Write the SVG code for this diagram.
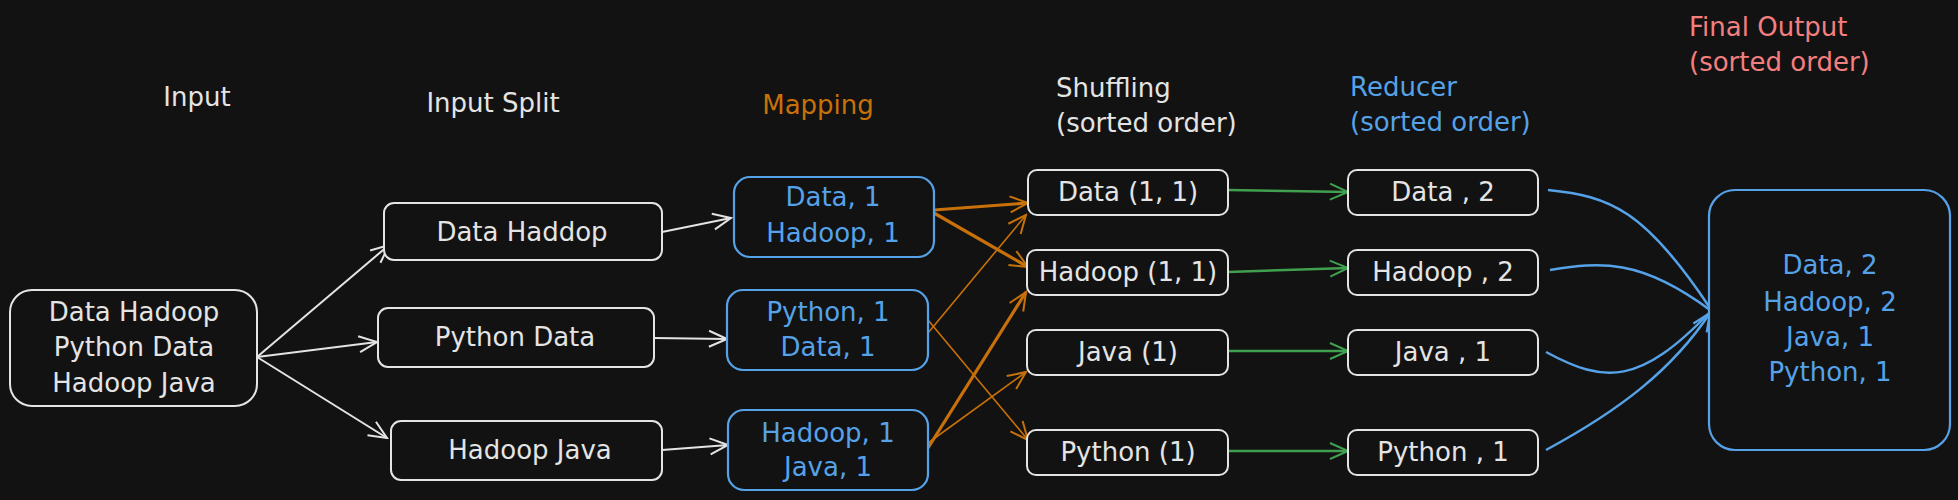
<svg xmlns="http://www.w3.org/2000/svg" width="1958" height="500" viewBox="0 0 1958 500">
<defs>
<style>
text{font-family:"DejaVu Sans","Liberation Sans",sans-serif;font-size:26px;dominant-baseline:central}
.c{text-anchor:middle}
.w{fill:#e4e4e4}
.b{fill:#56a2e8}
.o{fill:#c8700a}
.r{fill:#f47f7f}
.box{fill:#121212;stroke:#e4e4e4;stroke-width:2}
.bbox{fill:#121212;stroke:#56a2e8;stroke-width:2.2}
.aw{fill:none;stroke:#e4e4e4;stroke-width:2;marker-end:url(#mw)}
.ao{fill:none;stroke:#c8700a;stroke-width:1.6;marker-end:url(#mo)}
.ao2{fill:none;stroke:#c8700a;stroke-width:3.2;marker-end:url(#mo)}
.ag{fill:none;stroke:#40a04f;stroke-width:2.5;marker-end:url(#mg)}
.ab{fill:none;stroke:#56a2e8;stroke-width:2.5}
</style>
<marker id="mw" viewBox="-20 -10 22 20" refX="0" refY="0" markerWidth="22" markerHeight="20" markerUnits="userSpaceOnUse" orient="auto"><path d="M-18,-8 L0,0 L-18,8" fill="none" stroke="#e4e4e4" stroke-width="2"/></marker>
<marker id="mo" viewBox="-20 -10 22 20" refX="0" refY="0" markerWidth="22" markerHeight="20" markerUnits="userSpaceOnUse" orient="auto"><path d="M-18,-8 L0,0 L-18,8" fill="none" stroke="#c8700a" stroke-width="2"/></marker>
<marker id="mg" viewBox="-20 -10 22 20" refX="0" refY="0" markerWidth="22" markerHeight="20" markerUnits="userSpaceOnUse" orient="auto"><path d="M-18,-8 L0,0 L-18,8" fill="none" stroke="#40a04f" stroke-width="2"/></marker>
<marker id="mb" viewBox="-20 -10 22 20" refX="0" refY="0" markerWidth="22" markerHeight="20" markerUnits="userSpaceOnUse" orient="auto"><path d="M-18,-8 L0,0 L-18,8" fill="none" stroke="#56a2e8" stroke-width="2.2"/></marker>
</defs>
<rect width="1958" height="500" fill="#121212"/>

<g id="titles">
<text class="w c" x="197" y="97">Input</text>
<text class="w c" x="493" y="103">Input Split</text>
<text class="o c" x="818" y="105">Mapping</text>
<text class="w" x="1056" y="88">Shuffling</text>
<text class="w" x="1056" y="123">(sorted order)</text>
<text class="b" x="1350" y="87">Reducer</text>
<text class="b" x="1350" y="122">(sorted order)</text>
<text class="r" x="1689" y="27">Final Output</text>
<text class="r" x="1689" y="62">(sorted order)</text>
</g>

<g id="connectors">
<path class="aw" d="M257,357 L389,245"/>
<path class="aw" d="M257,357 L377,342"/>
<path class="aw" d="M257,357 L387,438"/>
<path class="aw" d="M662,232 L731,218"/>
<path class="aw" d="M654,338 L727,339"/>
<path class="aw" d="M662,450 L728,445"/>
<path class="ao2" d="M934,210 L1028,203"/>
<path class="ao2" d="M934,213 L1028,267"/>
<path class="ao" d="M928,333 L1026,215"/>
<path class="ao" d="M928,320 L1028,440"/>
<path class="ao2" d="M928,448 L1026,292"/>
<path class="ao" d="M928,443 L1026,372"/>
<path class="ag" d="M1228,190 L1348,192"/>
<path class="ag" d="M1228,272 L1348,268"/>
<path class="ag" d="M1228,351 L1348,351"/>
<path class="ag" d="M1228,451 L1348,451"/>
<path class="ab" d="M1548,190 C1610,196 1645,210 1710,308"/>
<path class="ab" d="M1550,270 C1600,262 1640,258 1710,310"/>
<path class="ab" d="M1546,352 C1605,384 1640,385 1710,312"/>
<path class="ab" d="M1546,450 C1620,410 1672,370 1710,313" marker-end="url(#mb)"/>
</g>

<g id="input"><rect class="box" x="10" y="290" width="247" height="116" rx="22"/>
<text class="w c" x="134" y="312">Data Hadoop</text><text class="w c" x="134" y="347">Python Data</text><text class="w c" x="134" y="383">Hadoop Java</text></g>

<g id="split1"><rect class="box" x="384" y="203" width="278" height="57" rx="10"/><text class="w c" x="522" y="232">Data Haddop</text></g>
<g id="split2"><rect class="box" x="378" y="308" width="276" height="59" rx="10"/><text class="w c" x="515" y="337">Python Data</text></g>
<g id="split3"><rect class="box" x="391" y="421" width="271" height="59" rx="10"/><text class="w c" x="530" y="450">Hadoop Java</text></g>

<g id="map1"><rect class="bbox" x="734" y="177" width="200" height="80" rx="16"/><text class="b c" x="833" y="197">Data, 1</text><text class="b c" x="833" y="233">Hadoop, 1</text></g>
<g id="map2"><rect class="bbox" x="727" y="290" width="201" height="80" rx="16"/><text class="b c" x="828" y="312">Python, 1</text><text class="b c" x="828" y="347">Data, 1</text></g>
<g id="map3"><rect class="bbox" x="728" y="410" width="200" height="80" rx="16"/><text class="b c" x="828" y="433">Hadoop, 1</text><text class="b c" x="828" y="467">Java, 1</text></g>

<g id="shuf1"><rect class="box" x="1028" y="170" width="200" height="45" rx="9"/><text class="w c" x="1128" y="192">Data (1, 1)</text></g>
<g id="shuf2"><rect class="box" x="1027" y="250" width="201" height="45" rx="9"/><text class="w c" x="1128" y="272">Hadoop (1, 1)</text></g>
<g id="shuf3"><rect class="box" x="1027" y="330" width="201" height="45" rx="9"/><text class="w c" x="1128" y="352">Java (1)</text></g>
<g id="shuf4"><rect class="box" x="1027" y="430" width="201" height="45" rx="9"/><text class="w c" x="1128" y="452">Python (1)</text></g>

<g id="red1"><rect class="box" x="1348" y="170" width="190" height="45" rx="9"/><text class="w c" x="1443" y="192">Data , 2</text></g>
<g id="red2"><rect class="box" x="1348" y="250" width="190" height="45" rx="9"/><text class="w c" x="1443" y="272">Hadoop , 2</text></g>
<g id="red3"><rect class="box" x="1348" y="330" width="190" height="45" rx="9"/><text class="w c" x="1443" y="352">Java , 1</text></g>
<g id="red4"><rect class="box" x="1348" y="430" width="190" height="45" rx="9"/><text class="w c" x="1443" y="452">Python , 1</text></g>

<g id="final"><rect class="bbox" x="1709" y="190" width="241" height="260" rx="26"/>
<text class="b c" x="1830" y="265">Data, 2</text><text class="b c" x="1830" y="302">Hadoop, 2</text><text class="b c" x="1830" y="337">Java, 1</text><text class="b c" x="1830" y="372">Python, 1</text></g>
</svg>
